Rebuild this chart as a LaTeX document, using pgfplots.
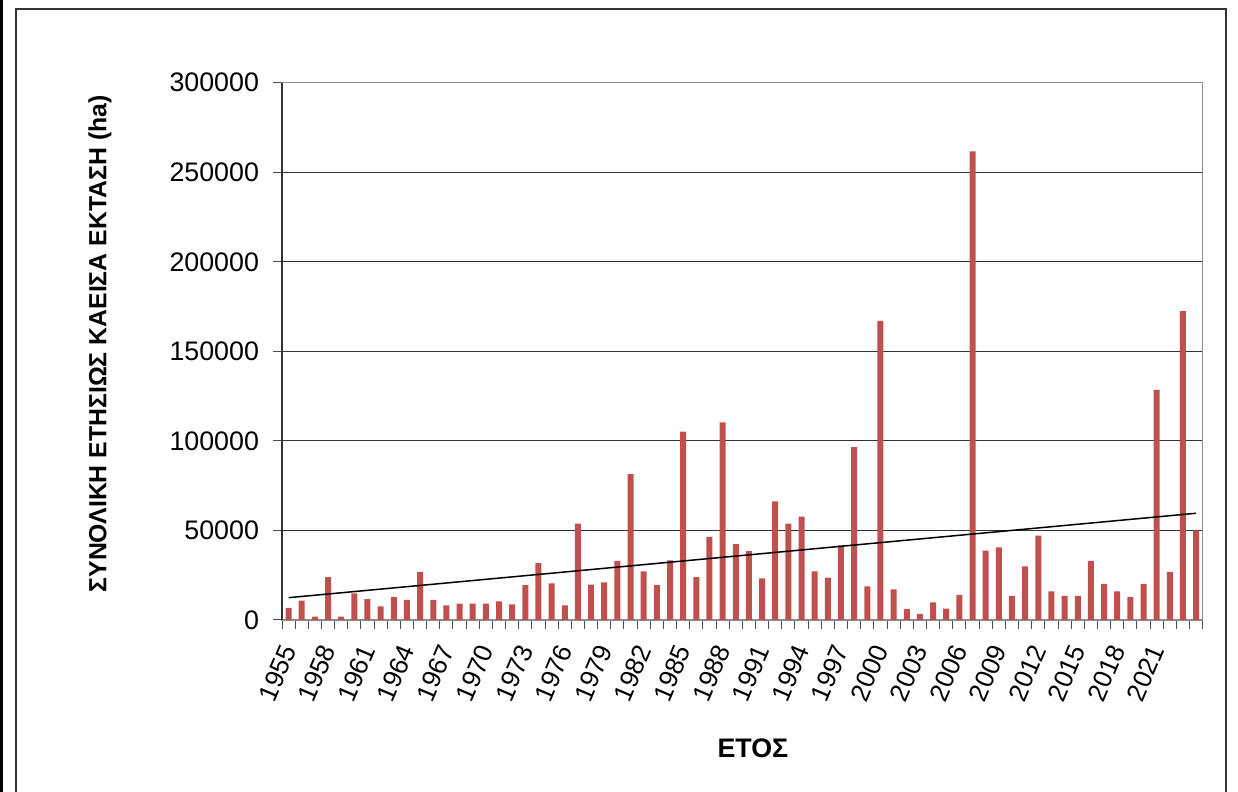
\documentclass[border=0pt]{standalone}
\usepackage{pgfplots}
\pgfplotsset{compat=1.18}
\usepackage{fontspec}
\setmainfont{Liberation Sans}
\definecolor{barred}{RGB}{192,80,77}
\begin{document}
\begin{tikzpicture}
\useasboundingbox (0,0) rectangle (619pt,396pt);
\fill[black] (0,0) rectangle (1.5pt,396pt);
\draw[black!80, line width=0.8pt] (8pt,-2pt) -- (8pt,391.5pt) -- (612.85pt,391.5pt) -- (612.85pt,-2pt);
\begin{axis}[
  at={(141pt,86pt)}, anchor=south west,
  scale only axis, width=460.35pt, height=268.65pt,
  ybar, bar width=3pt,
  xmin=1954.5, xmax=2024.5,
  ymin=0, ymax=300000,
  ytick={0,50000,...,300000},
  xtick={1954.5,1955.5,...,2024.5},
  xticklabels={},
  extra x ticks={1955,1958,...,2021},
  extra x tick style={major tick length=0pt, xticklabel style={xshift=1.5pt, yshift=-10pt, rotate=67, anchor=east, font=\fontsize{13}{15}\selectfont}},
  scaled y ticks=false,
  /pgf/number format/.cd, fixed, 1000 sep={}, assume math mode=true,
  /pgfplots/.cd,
  tick pos=left,
  tick align=outside,
  major tick length=4.5pt,
  tick style={black!70, line width=0.5pt},
  ymajorgrids,
  major grid style={black!80, line width=0.5pt},
  axis line style={black!45, line width=0.6pt},
  yticklabel style={font=\fontsize{13.4}{15}\selectfont, xshift=-3.5pt},
  xlabel={\textbf{ΕΤΟΣ}},
  xlabel style={at={(rel axis cs:0.5,0)}, anchor=center, xshift=5.3pt, yshift=-64pt, font=\fontsize{13.4}{15}\selectfont},
  ylabel={\textbf{ΣΥΝΟΛΙΚΗ ΕΤΗΣΙΩΣ ΚΑΕΙΣΑ ΕΚΤΑΣΗ (ha)}},
  ylabel style={at={(rel axis cs:0,0.5)}, anchor=center, rotate=0, xshift=3.7pt, yshift=91pt, font=\fontsize{12.4}{14}\selectfont},
  clip=false,
]
\addplot[fill=barred, draw=none] coordinates {
(1955,6700) (1956,10800) (1957,1900) (1958,24000) (1959,1900)
(1960,14900) (1961,11700) (1962,7600) (1963,12700) (1964,11200)
(1965,26800) (1966,11200) (1967,8200) (1968,9100) (1969,9100)
(1970,9100) (1971,10400) (1972,8750) (1973,19400) (1974,31700)
(1975,20500) (1976,8200) (1977,53800) (1978,19700) (1979,21000)
(1980,33000) (1981,81400) (1982,27200) (1983,19400) (1984,33300)
(1985,105200) (1986,24000) (1987,46400) (1988,110400) (1989,42300)
(1990,38400) (1991,23300) (1992,66300) (1993,53800) (1994,57700)
(1995,27200) (1996,23600) (1997,41700) (1998,96500) (1999,18800)
(2000,167000) (2001,17100) (2002,6000) (2003,3350) (2004,9900)
(2005,6300) (2006,14000) (2007,261600) (2008,38700) (2009,40600)
(2010,13400) (2011,30000) (2012,47100) (2013,16000) (2014,13400)
(2015,13400) (2016,33000) (2017,20100) (2018,16000) (2019,12700)
(2020,20100) (2021,128500) (2022,26800) (2023,172500) (2024,50100)
};
\addplot[sharp plot, black, line width=0.75pt, forget plot] coordinates {(1955,12460) (2024,59600)};
\draw[black!80, line width=0.6pt] (rel axis cs:0,0) -- (rel axis cs:0,1);
\end{axis}
\end{tikzpicture}
\end{document}
